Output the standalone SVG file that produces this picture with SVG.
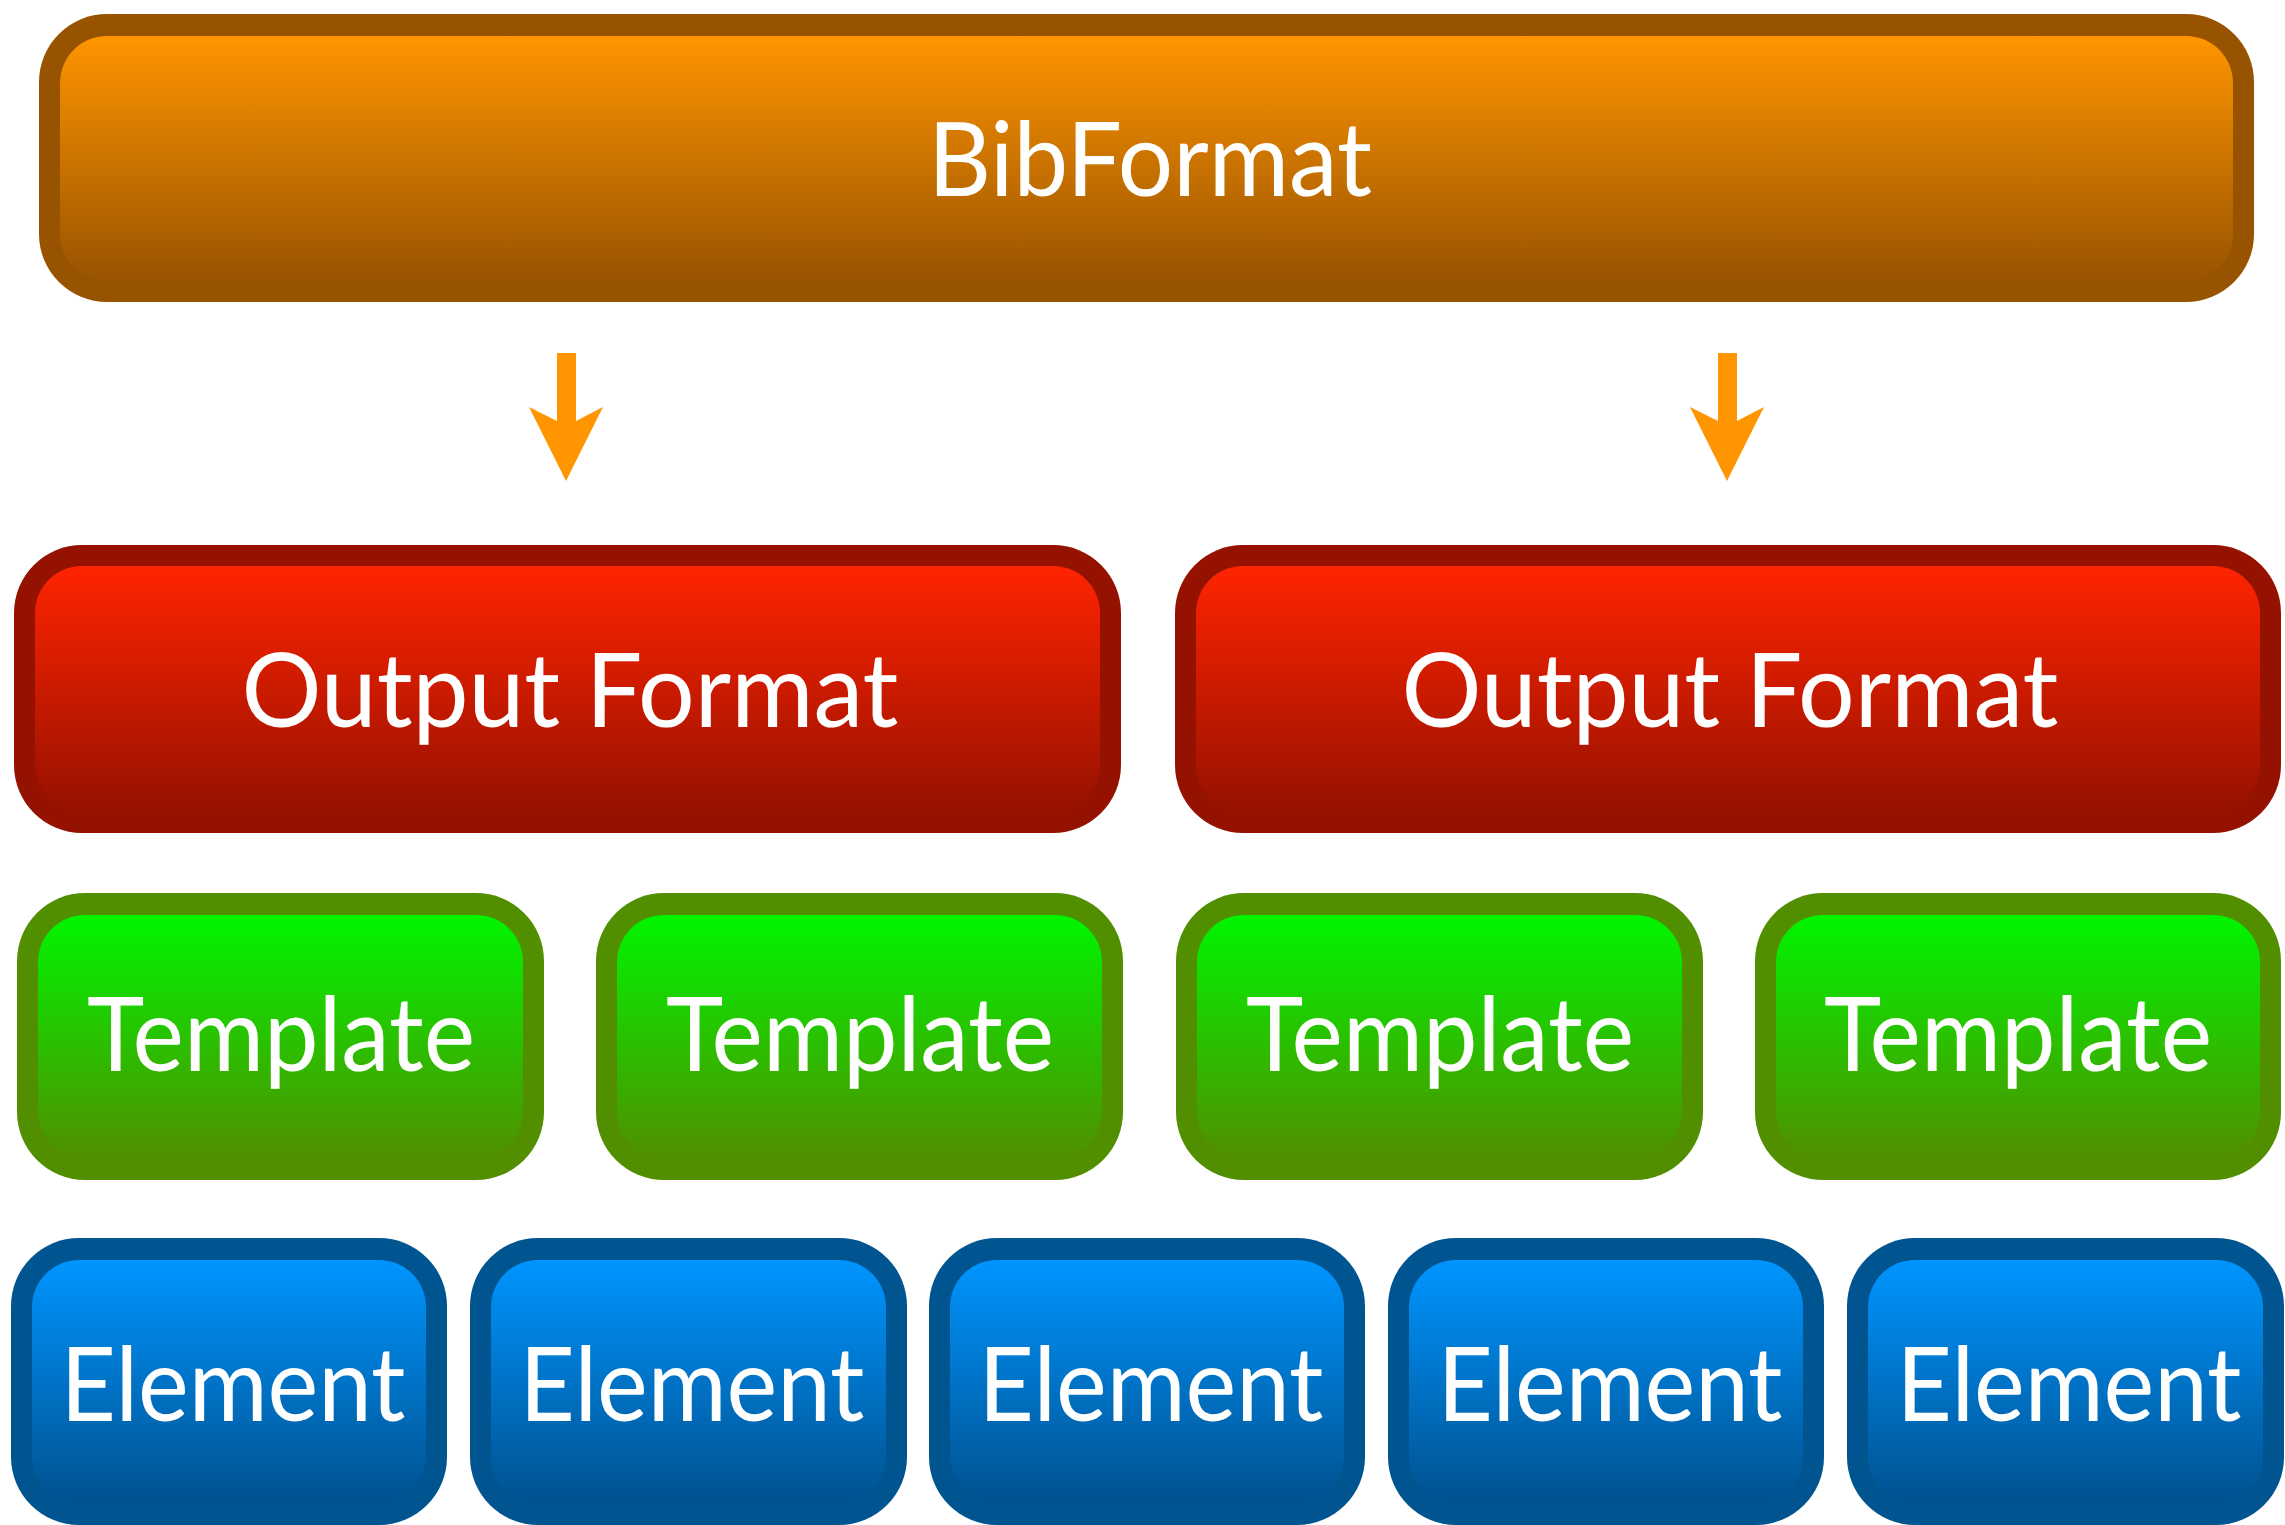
<svg xmlns="http://www.w3.org/2000/svg" width="2285" height="1525" viewBox="0 0 2285 1525">
<defs>
<linearGradient id="gOrange" x1="0" y1="0" x2="0" y2="1"><stop offset="0" stop-color="#FF9500"/><stop offset="1" stop-color="#985300"/></linearGradient>
<linearGradient id="gRed" x1="0" y1="0" x2="0" y2="1"><stop offset="0" stop-color="#FF2400"/><stop offset="1" stop-color="#961100"/></linearGradient>
<linearGradient id="gGreen" x1="0" y1="0" x2="0" y2="1"><stop offset="0" stop-color="#00F500"/><stop offset="1" stop-color="#518F00"/></linearGradient>
<linearGradient id="gBlue" x1="0" y1="0" x2="0" y2="1"><stop offset="0" stop-color="#0095FF"/><stop offset="1" stop-color="#00518F"/></linearGradient>
</defs>
<style>
.outer{rx:68px;ry:68px}
.inner{rx:47px;ry:47px}
.bo{fill:#975300}
.io{fill:url(#gOrange)}
.br{fill:#951200}
.ir{fill:url(#gRed)}
.bg{fill:#518F00}
.ig{fill:url(#gGreen)}
.bb{fill:#00548F}
.ib{fill:url(#gBlue)}
text{font-family:"Lato","Liberation Sans",sans-serif;font-size:103px;fill:#FFFFFF;text-anchor:middle}
.arrow{fill:#FF9500}
</style>
<rect width="2285" height="1525" fill="#FFFFFF"/>

<g id="connectors">
<path class="arrow" d="M557,353 H576 V421 L603,407 L566,481 L529,407 L557,421 Z"/>
<path class="arrow" d="M1718,353 H1737 V421 L1764,407 L1727,481 L1690,407 L1718,421 Z"/>
</g>

<g id="bibformat">
<rect class="outer bo" x="39" y="14" width="2215" height="288"/>
<rect class="inner io" x="60" y="36" width="2173" height="245"/>
<text x="1150" y="196" textLength="444" lengthAdjust="spacingAndGlyphs">BibFormat</text>
</g>

<g id="output-format-1">
<rect class="outer br" x="14" y="545" width="1107" height="288"/>
<rect class="inner ir" x="35" y="566" width="1065" height="246"/>
<text x="570" y="727" textLength="657" lengthAdjust="spacingAndGlyphs">Output Format</text>
</g>
<g id="output-format-2">
<rect class="outer br" x="1175" y="545" width="1106" height="288"/>
<rect class="inner ir" x="1196" y="566" width="1064" height="246"/>
<text x="1730" y="727" textLength="657" lengthAdjust="spacingAndGlyphs">Output Format</text>
</g>

<g id="template-1">
<rect class="outer bg" x="17" y="893" width="527" height="287"/>
<rect class="inner ig" x="38" y="915" width="485" height="244"/>
<text x="281" y="1071" textLength="388" lengthAdjust="spacingAndGlyphs">Template</text>
</g>
<g id="template-2">
<rect class="outer bg" x="596" y="893" width="527" height="287"/>
<rect class="inner ig" x="617" y="915" width="485" height="244"/>
<text x="860" y="1071" textLength="388" lengthAdjust="spacingAndGlyphs">Template</text>
</g>
<g id="template-3">
<rect class="outer bg" x="1176" y="893" width="527" height="287"/>
<rect class="inner ig" x="1197" y="915" width="485" height="244"/>
<text x="1440" y="1071" textLength="388" lengthAdjust="spacingAndGlyphs">Template</text>
</g>
<g id="template-4">
<rect class="outer bg" x="1755" y="893" width="526" height="287"/>
<rect class="inner ig" x="1776" y="915" width="484" height="244"/>
<text x="2018" y="1071" textLength="388" lengthAdjust="spacingAndGlyphs">Template</text>
</g>

<g id="element-1">
<rect class="outer bb" x="11" y="1238" width="436" height="287"/>
<rect class="inner ib" x="32" y="1260" width="394" height="244"/>
<text x="233" y="1421" textLength="345" lengthAdjust="spacingAndGlyphs">Element</text>
</g>
<g id="element-2">
<rect class="outer bb" x="470" y="1238" width="437" height="287"/>
<rect class="inner ib" x="491" y="1260" width="395" height="244"/>
<text x="692" y="1421" textLength="345" lengthAdjust="spacingAndGlyphs">Element</text>
</g>
<g id="element-3">
<rect class="outer bb" x="929" y="1238" width="436" height="287"/>
<rect class="inner ib" x="950" y="1260" width="394" height="244"/>
<text x="1151" y="1421" textLength="345" lengthAdjust="spacingAndGlyphs">Element</text>
</g>
<g id="element-4">
<rect class="outer bb" x="1388" y="1238" width="436" height="287"/>
<rect class="inner ib" x="1409" y="1260" width="394" height="244"/>
<text x="1610" y="1421" textLength="345" lengthAdjust="spacingAndGlyphs">Element</text>
</g>
<g id="element-5">
<rect class="outer bb" x="1847" y="1238" width="437" height="287"/>
<rect class="inner ib" x="1868" y="1260" width="395" height="244"/>
<text x="2069" y="1421" textLength="345" lengthAdjust="spacingAndGlyphs">Element</text>
</g>
</svg>
